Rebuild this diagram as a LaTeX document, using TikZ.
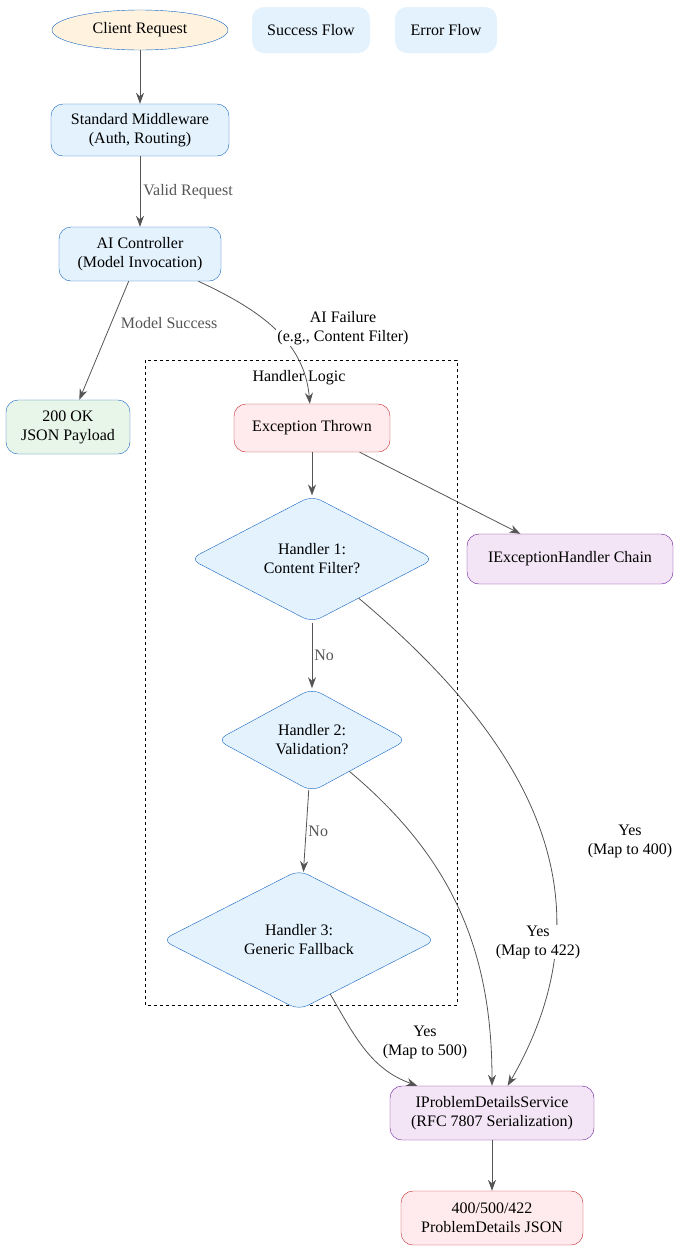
\documentclass[tikz,border=0pt]{standalone}
\usepackage{fontspec}
\setmainfont{Liberation Serif}
\usetikzlibrary{shapes.geometric}
\usetikzlibrary{arrows.meta}
\definecolor{bluefill}{HTML}{E3F2FD}
\definecolor{blueline}{HTML}{1565C0}
\definecolor{orangefill}{HTML}{FFF3E0}
\definecolor{greenfill}{HTML}{E8F5E9}
\definecolor{redfill}{HTML}{FFEBEE}
\definecolor{redline}{HTML}{C62828}
\definecolor{purplefill}{HTML}{F3E5F5}
\definecolor{purpleline}{HTML}{6A1B9A}
\definecolor{edgegray}{HTML}{555555}
\begin{document}
\begin{tikzpicture}[x=1pt,y=-1pt,font=\fontsize{16}{19}\selectfont,
    box/.style={draw=blueline,fill=bluefill,rounded corners=12pt,align=center,
      inner sep=0pt,minimum height=52pt},
    err/.style={box,draw=redline,fill=redfill},
    svc/.style={box,draw=purpleline,fill=purplefill},
    ok/.style={box,fill=greenfill},
    legend/.style={fill=bluefill,rounded corners=12pt,inner sep=0pt,minimum height=46pt},
    check/.style={diamond,draw=blueline,fill=bluefill,rounded corners=10pt,align=center,
      inner sep=0pt,minimum height=100pt},
    flow/.style={-{Stealth[length=11pt,width=8pt]},edgegray,thick},
    lbl/.style={align=center,fill=white,inner sep=1pt}]

    \useasboundingbox (0,0) rectangle (684,1251);

    % cluster
    \draw[dashed,thick] (145,360) rectangle (457,1005);
    \node (logic) at (299,378) {Handler Logic};

    \node[ellipse,draw=blueline,fill=orangefill,minimum width=176pt,minimum height=40pt,
      inner sep=0pt] (client) at (140,30) {Client Request};
    \node[legend,minimum width=118pt] (success) at (311,30) {Success Flow};
    \node[legend,minimum width=102pt] (error) at (446,30) {Error Flow};

    \node[box,minimum width=178pt] (mw) at (140,130) {Standard Middleware\\(Auth, Routing)};
    \node[box,minimum width=162pt,minimum height=54pt] (ctrl) at (140,254) {AI Controller\\(Model Invocation)};
    \node[ok,minimum width=124pt,minimum height=54pt] (okay) at (68,427) {200 OK\\JSON Payload};
    \node[err,minimum width=156pt,minimum height=48pt] (thrown) at (312,428) {Exception Thrown};
    \node[svc,minimum width=206pt,minimum height=50pt] (chain) at (570,559) {IExceptionHandler Chain};

    \node[check,minimum width=244pt] (hone) at (312,559) {Handler 1:\\Content Filter?};
    \node[check,minimum width=190pt] (htwo) at (312,740) {Handler 2:\\Validation?};
    \node[check,minimum width=274pt] (hthree) at (299,940) {Handler 3:\\Generic Fallback};

    \node[svc,minimum width=204pt,minimum height=54pt] (pds) at (492,1113) {IProblemDetailsService\\(RFC 7807 Serialization)};
    \node[err,minimum width=182pt,minimum height=54pt] (result) at (492,1218) {400/500/422\\ProblemDetails JSON};

    \draw[flow] (client) -- (mw);
    \draw[flow] (mw) -- node[lbl,right,xshift=2pt] {Valid Request} (ctrl);
    \draw[flow] (ctrl.south west) ++(0,0) (ctrl) -- node[lbl,pos=0.35,right,xshift=8pt] {Model Success} (okay);
    \draw[flow] (ctrl) to[out=-25,in=95] (thrown);
    \node[lbl] (failure) at (343,328) {AI Failure\\(e.g., Content Filter)};
    \draw[flow] (thrown) -- (hone);
    \draw[flow] (thrown) -- (chain);
    \draw[flow] (hone) -- node[lbl,right,xshift=1pt] {No} (htwo);
    \draw[flow] (htwo) -- node[lbl,right,xshift=1pt] {No} (hthree);
    \draw[flow] (hone) to[out=-40,in=60,looseness=1.1] (pds);
    \node[lbl] (yesone) at (630,841) {Yes\\(Map to 400)};
    \draw[flow] (htwo) to[out=-40,in=90,looseness=1] (pds);
    \node[lbl] (yestwo) at (538,942) {Yes\\(Map to 422)};
    \draw[flow] (hthree) to[out=-60,in=160] (pds);
    \node[lbl] (yesthree) at (425,1042) {Yes\\(Map to 500)};
    \draw[flow] (pds) -- (result);
\end{tikzpicture}
\end{document}
